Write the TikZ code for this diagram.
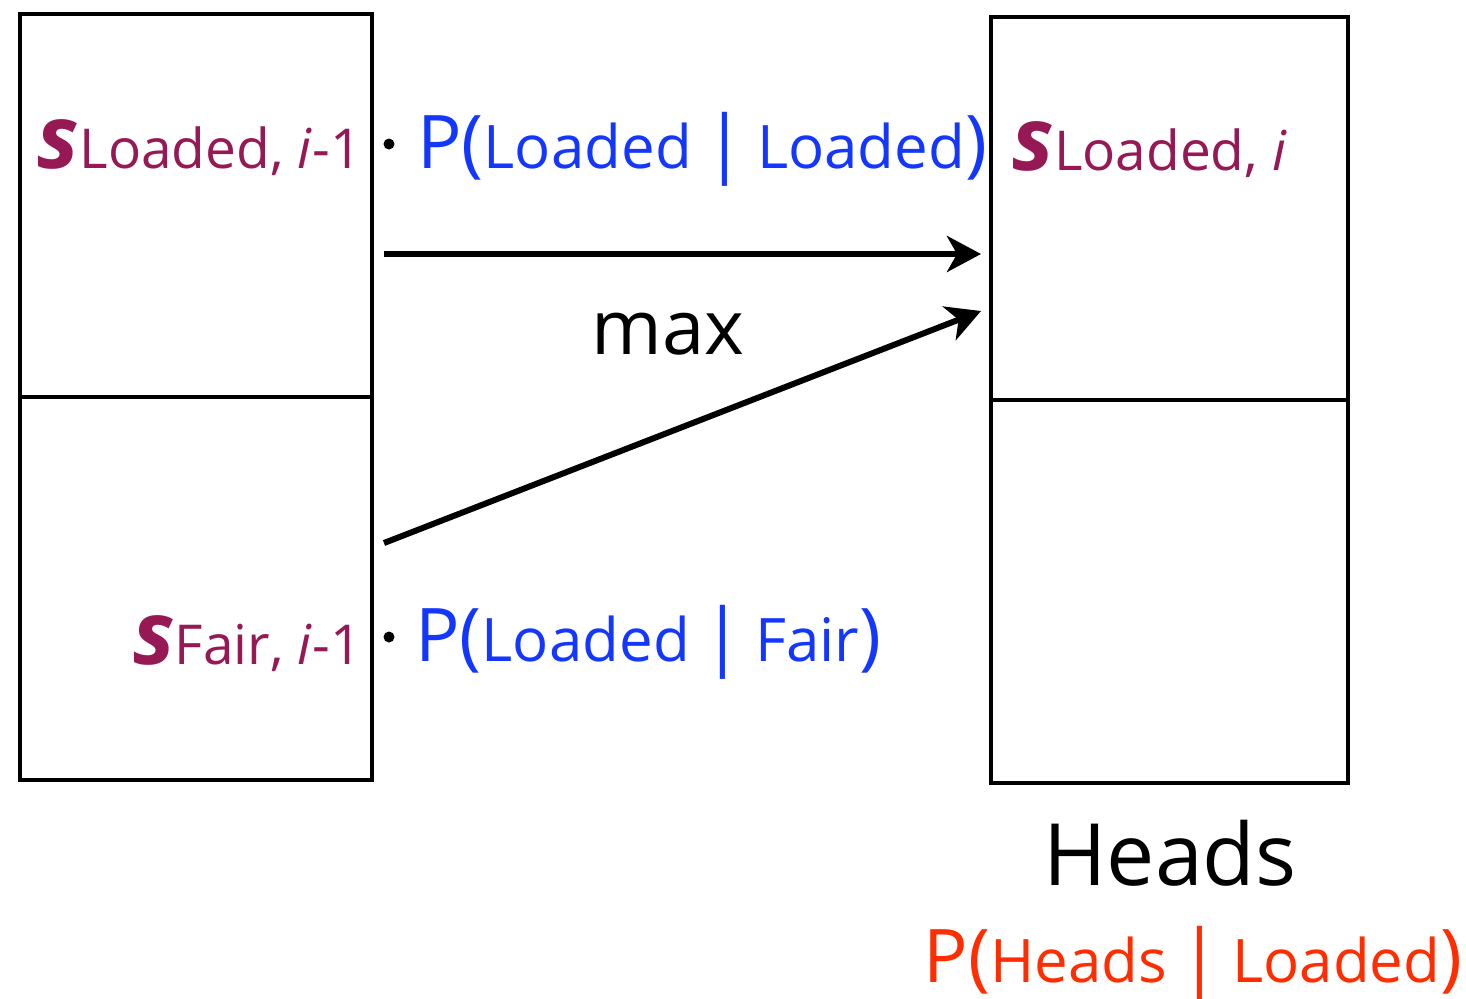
\documentclass[tikz,border=0pt]{standalone}
\usepackage{fontspec}
\setmainfont{Open Sans}
\usetikzlibrary{arrows.meta,positioning}

\definecolor{scorePurple}{RGB}{150,25,85}
\definecolor{transBlue}{RGB}{20,55,255}
\definecolor{emitRed}{RGB}{255,45,0}

% score label: big bold italic s, then the state and step
\newcommand{\score}[1]{{\fontsize{44}{44}\selectfont\bfseries\itshape s}{\fontsize{27.5}{27.5}\selectfont #1}}
% probability label: P, brackets and bar larger than the words
\newcommand{\bigsym}[1]{{\fontsize{37}{37}\selectfont #1}}
\newcommand{\prob}[2]{\bigsym{P(}{\fontsize{30}{30}\selectfont #1}\bigsym{\,|\,}{\fontsize{30}{30}\selectfont #2}\bigsym{)}}

\begin{document}
\begin{tikzpicture}[x=0.5pt,y=-0.5pt,
    cell/.style={draw, line width=2pt, inner sep=0pt, minimum height=191.5pt},
    flow/.style={-{Stealth[length=17pt,width=18pt,inset=5pt]}, line width=3pt},
    lbl/.style={inner sep=0pt},
    dot/.style={circle, fill, inner sep=0pt, minimum size=5.5pt}
  ]
  \useasboundingbox (0,0) rectangle (1466,998);

  % Two columns of states, loaded on top, fair below
  \foreach \col/\x/\y/\w in {prev/196/205.5/176pt, cur/1169.5/208.5/178.5pt}{
      \node[cell, minimum width=\w] (\col Loaded) at (\x,\y) {};
      \node[cell, minimum width=\w] (\col Fair) at (\x,\y+383) {};
    }

  % Scores
  \node[lbl, anchor=base east, text=scorePurple] (sLoadedPrev) at (362,168) {\score{Loaded, \textit{i}-1}};
  \node[lbl, anchor=base east, text=scorePurple] (sFairPrev) at (362,664) {\score{Fair, \textit{i}-1}};
  \node[lbl, anchor=base west, text=scorePurple] (sLoadedCur) at (1012,170) {\score{Loaded, \textit{i}}};

  % Transition terms
  \node[dot] (dotTop) at (389,144) {};
  \node[dot] (dotBottom) at (389,637) {};
  \node[lbl, anchor=base west, text=transBlue] (pLL) at (417,168) {\prob{Loaded}{Loaded}};
  \node[lbl, anchor=base west, text=transBlue] (pFL) at (415,661) {\prob{Loaded}{Fair}};

  % Candidates into the new cell
  \coordinate (fromLoaded) at (384,254);
  \coordinate (fromFair) at (384,543);
  \coordinate (toLoadedA) at (981,254);
  \coordinate (toLoadedB) at (981,311);
  \draw[flow] (fromLoaded) -- (toLoadedA);
  \draw[flow] (fromFair) -- (toLoadedB);

  \node[lbl, font=\fontsize{38}{38}\selectfont] (maxLbl) at (668,334) {max};

  % Emission
  \node[lbl, font=\fontsize{43}{43}\selectfont] (heads) at (1170,853) {Heads};
  \node[lbl, anchor=base, text=emitRed] (pHL) at (1193,982) {\prob{Heads}{Loaded}};
\end{tikzpicture}
\end{document}
